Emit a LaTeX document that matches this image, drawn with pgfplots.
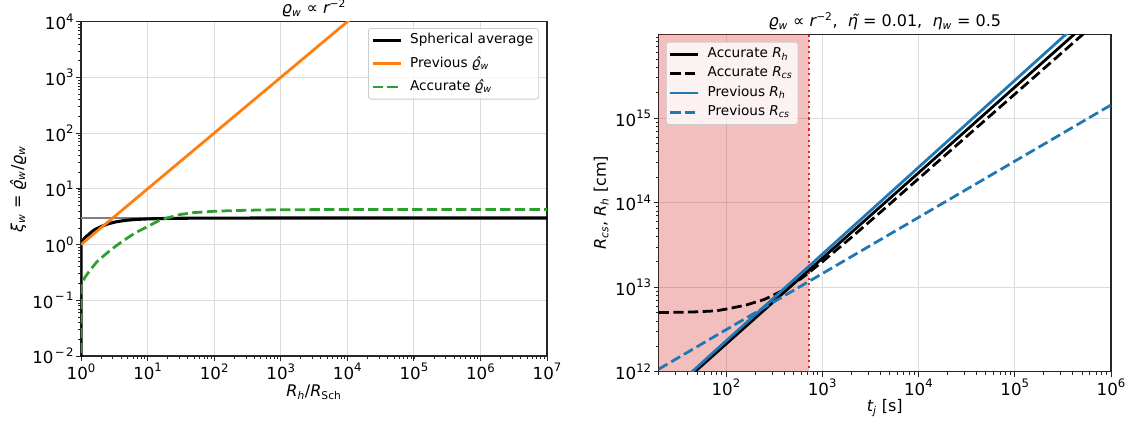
\documentclass[border=0pt]{standalone}
\usepackage{fontspec}
\setmainfont{DejaVu Sans}
\usepackage{pgfplots}
\pgfplotsset{compat=1.18}
\definecolor{tabblue}{HTML}{1F77B4}
\definecolor{taborange}{HTML}{FF7F0E}
\definecolor{tabgreen}{HTML}{2CA02C}
\definecolor{tabred}{HTML}{D62728}
\definecolor{dotred}{HTML}{E8251F}
\newcommand{\mi}[1]{{\itshape #1}}
\newcommand{\sub}[1]{\textsubscript{#1}}
\newcommand{\sps}[1]{\raisebox{0.45em}{\fontsize{8.75}{10}\selectfont #1}}
\newcommand{\logticklabel}{\pgfmathtruncatemacro\expo{round(\tick/ln(10))}10\sps{\ifnum\expo<0 \kern0.12em−\kern0.12em\number-\expo\else\expo\fi}}
\begin{document}
\begin{tikzpicture}
\begin{axis}[scale only axis, xmode=log, ymode=log,
  tick pos=left, tick align=outside,
  major tick length=3.6pt, minor tick length=2.1pt,
  major tick style={black!85, line width=0.6pt},
  minor tick style={black!85, line width=0.45pt},
  axis line style={black!85, line width=0.8pt},
  grid=major, major grid style={black!14, line width=0.6pt},
  xticklabel={\logticklabel}, yticklabel={\logticklabel},
  tick label style={font=\fontsize{12.5}{14}\selectfont, inner sep=1.8pt},
  label style={font=\fontsize{12}{14}\selectfont},
  title style={font=\fontsize{12}{14}\selectfont, at={(axis description cs:0.5,1)}, anchor=base, yshift=0pt},
  legend style={font=\fontsize{10.2}{12}\selectfont, draw=black!20, rounded corners=2pt, fill=white, fill opacity=0.8, text opacity=1, line width=0.6pt, inner sep=2pt, column sep=4pt, nodes={inner sep=2pt, text height=7.6pt, text depth=2.6pt}},
  legend cell align=left,
  legend image code/.code={\draw[#1] (0pt,0pt) -- (21pt,0pt);},
  at={(60.75pt,-267pt)}, anchor=south west, width=349.5pt, height=250.7pt,
  xmin=1, xmax=1e7, ymin=1e-2, ymax=1e4,
  xlabel={\mi{R}\sub{\mi{h}}/\mi{R}\sub{Sch}},
  ylabel={\mi{ξ}\sub{\mi{w}} = \mi{ϱ̂}\sub{\mi{w}}/\mi{ϱ}\sub{\mi{w}}},
  xlabel style={at={(axis description cs:0.5,-0.108)}, anchor=center},
  ylabel style={at={(axis description cs:-0.135,0.5)}, anchor=center},
  title={\mi{ϱ}\sub{\mi{w}} ∝ \mi{r}\textsuperscript{−2}},
  legend style={at={(0.983,0.981)}, anchor=north east, row sep=3.2pt}]
\addplot[gray, line width=1.05pt, forget plot] coordinates {(1,3) (1e7,3)};
\addplot[black, line width=2.3pt] coordinates {
(1.003,0.001) (1.003,1.0) (1.05,1.13) (1.1,1.25) (1.2,1.40) (1.29,1.49) (1.45,1.70)
(1.62,1.86) (2.0,2.10) (2.58,2.37) (3.3,2.55) (4.6,2.72) (6.5,2.82) (10,2.89)
(20,2.95) (50,2.98) (100,2.99) (1000,3.0) (1e7,3.0)};
\addlegendentry{Spherical average}
\addplot[taborange, line width=2.08pt] coordinates {(1,1) (1e5,1e5)};
\addlegendentry{Previous \mi{ϱ̂}\sub{\mi{w}}}
\addplot[tabgreen, line width=2.08pt, dash pattern=on 7.7pt off 3.3pt] coordinates {
(1.003,0.001) (1.003,0.19) (1.05,0.21) (1.15,0.26) (1.35,0.34) (1.73,0.49) (2.2,0.63)
(2.75,0.79) (3.5,0.98) (4.4,1.19) (5.5,1.42) (6.9,1.68) (10,2.1) (15,2.72) (20,3.02)
(31.6,3.48) (50,3.75) (100,3.96) (200,4.08) (500,4.18) (1000,4.22) (1e4,4.26)
(1e5,4.27) (1e7,4.27)};
\addlegendentry{Accurate \mi{ϱ̂}\sub{\mi{w}}}
\end{axis}
\begin{axis}[scale only axis, xmode=log, ymode=log,
  tick pos=left, tick align=outside,
  major tick length=3.6pt, minor tick length=2.1pt,
  major tick style={black!85, line width=0.6pt},
  minor tick style={black!85, line width=0.45pt},
  axis line style={black!85, line width=0.8pt},
  grid=major, major grid style={black!14, line width=0.6pt},
  xticklabel={\logticklabel}, yticklabel={\logticklabel},
  tick label style={font=\fontsize{12.5}{14}\selectfont, inner sep=1.8pt},
  label style={font=\fontsize{12}{14}\selectfont},
  title style={font=\fontsize{12}{14}\selectfont, at={(axis description cs:0.5,1)}, anchor=base, yshift=-0.3pt},
  legend style={font=\fontsize{10.2}{12}\selectfont, draw=black!20, rounded corners=2pt, fill=white, fill opacity=0.8, text opacity=1, line width=0.6pt, inner sep=2pt, column sep=4pt, nodes={inner sep=2pt, text height=7.6pt, text depth=2.6pt}},
  legend cell align=left,
  legend image code/.code={\draw[#1] (0pt,0pt) -- (21pt,0pt);},
  at={(493.95pt,-278.8pt)}, anchor=south west, width=339.3pt, height=253.05pt,
  xmin=20, xmax=1e6, ymin=1e12, ymax=9.8e15,
  xlabel={\mi{t}\sub{\mi{j}} [s]},
  ylabel={\mi{R}\sub{\mi{cs}}, \mi{R}\sub{\mi{h}} [cm]},
  xlabel style={at={(axis description cs:0.5,-0.107)}, anchor=center},
  ylabel style={at={(axis description cs:-0.127,0.5)}, anchor=center},
  title={\mi{ϱ}\sub{\mi{w}} ∝ \mi{r}\textsuperscript{−2},\ \ \mi{η̃} = 0.01,\ \ \mi{η}\sub{\mi{w}} = 0.5},
  legend style={at={(0.016,0.978)}, anchor=north west, row sep=0.3pt}]
\addplot[draw=none, fill=tabred, fill opacity=0.3, forget plot] coordinates {(10,1e11) (727,1e11) (727,1e17) (10,1e17)} -- cycle;
\addplot[dotred, line width=1.56pt, dash pattern=on 1.56pt off 2.58pt, forget plot] coordinates {(727,1e11) (727,1e17)};
\addplot[black, line width=2.08pt] coordinates {
(20,4.15e11) (100,2.12e12) (1000,2.19e13) (1e4,2.25e14) (1e5,2.32e15) (1e6,2.39e16)};
\addlegendentry{Accurate \mi{R}\sub{\mi{h}}}
\addplot[black, line width=2.08pt, dash pattern=on 7.7pt off 3.3pt] coordinates {
(20,5.01e12) (31.6,5.05e12) (50,5.11e12) (79.4,5.25e12) (100,5.50e12) (158,6.10e12)
(251,7.16e12) (398,9.23e12) (631,1.31e13) (1000,1.99e13) (2000,3.86e13) (4000,7.66e13)
(1e4,1.92e14) (1e5,1.92e15) (1e6,1.92e16)};
\addlegendentry{Accurate \mi{R}\sub{\mi{cs}}}
\addplot[tabblue, line width=2.08pt] coordinates {
(20,4.39e11) (100,2.30e12) (1000,2.45e13) (1e4,2.61e14) (1e5,2.79e15) (1e6,2.97e16)};
\addlegendentry{Previous \mi{R}\sub{\mi{h}}}
\addplot[tabblue, line width=2.08pt, dash pattern=on 7.7pt off 3.3pt] coordinates {
(20,1.07e12) (100,3.13e12) (1000,1.445e13) (1e4,6.68e13) (1e5,3.09e14) (1e6,1.43e15)};
\addlegendentry{Previous \mi{R}\sub{\mi{cs}}}
\end{axis}
\pgfresetboundingbox
\path[use as bounding box] (0pt,0pt) rectangle (851.25pt,-317.25pt);
\end{tikzpicture}
\end{document}
